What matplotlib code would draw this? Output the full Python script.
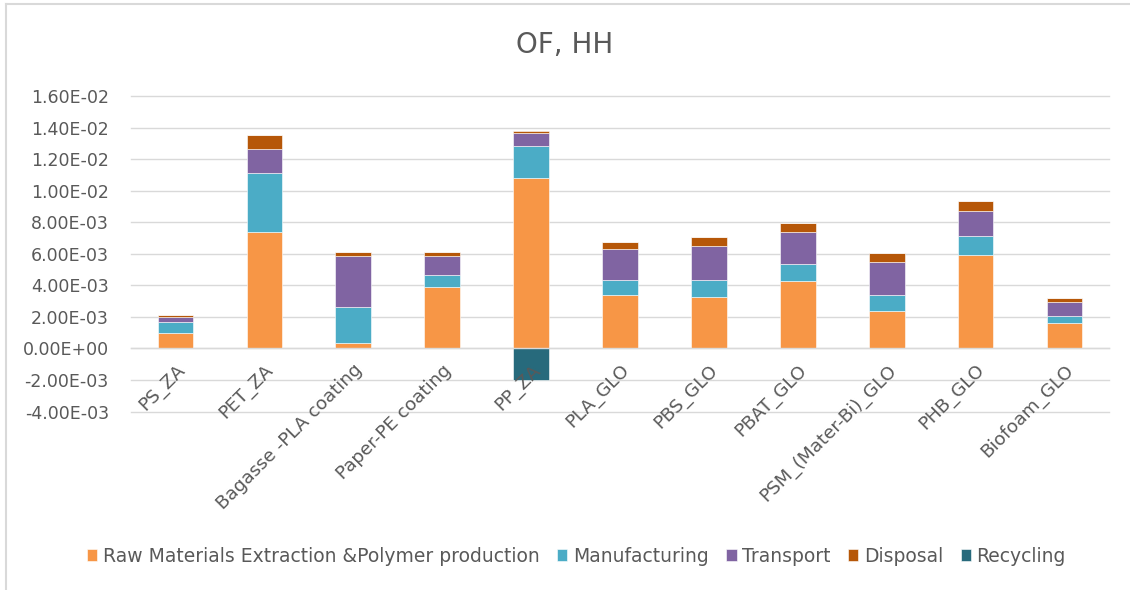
import matplotlib
matplotlib.use("Agg")
import matplotlib.pyplot as plt
from matplotlib.lines import Line2D
import numpy as np

plt.rcParams['font.family'] = ['DejaVu Sans']

categories = ["PS_ZA", "PET_ZA", "Bagasse -PLA coating", "Paper-PE coating", "PP_ZA",
              "PLA_GLO", "PBS_GLO", "PBAT_GLO", "PSM_(Mater-Bi)_GLO", "PHB_GLO", "Biofoam_GLO"]

raw_materials = [0.95e-3, 7.36e-3, 0.32e-3, 3.87e-3, 10.78e-3, 3.38e-3, 3.25e-3, 4.27e-3, 2.35e-3, 5.90e-3, 1.60e-3]
manufacturing = [0.70e-3, 3.74e-3, 2.34e-3, 0.80e-3, 2.05e-3, 0.93e-3, 1.10e-3, 1.06e-3, 1.01e-3, 1.22e-3, 0.45e-3]
transport = [0.33e-3, 1.52e-3, 3.17e-3, 1.20e-3, 0.80e-3, 1.97e-3, 2.12e-3, 2.06e-3, 2.09e-3, 1.61e-3, 0.87e-3]
disposal = [0.13e-3, 0.88e-3, 0.28e-3, 0.24e-3, 0.15e-3, 0.48e-3, 0.59e-3, 0.57e-3, 0.57e-3, 0.59e-3, 0.25e-3]
recycling = [0, 0, 0, 0, -2.0e-3, 0, 0, 0, 0, 0, 0]

series_names = ["Raw Materials Extraction &Polymer production", "Manufacturing",
                "Transport", "Disposal", "Recycling"]
series_colors = ["#F79646", "#4BACC6", "#8064A2", "#B65708", "#276A7C"]
yticks = np.arange(-4e-3, 16.1e-3, 2e-3)

text_color = "#595959"
grid_color = "#D9D9D9"

fig = plt.figure(figsize=(11.3, 5.9), dpi=100)
ax = fig.add_axes([131 / 1130, 1 - 411.6 / 590, 978 / 1130, 315.6 / 590])

x = np.arange(len(categories))
width = 0.4

# gridlines behind the bars
for yv in yticks:
    ax.axhline(yv, color=grid_color, lw=1.0, zorder=0, clip_on=False)

handles = []
pos_bottom = np.zeros(len(categories))
neg_bottom = np.zeros(len(categories))
for name, vals, col in zip(series_names,
                           [raw_materials, manufacturing, transport, disposal, recycling],
                           series_colors):
    vals = np.asarray(vals)
    bottoms = np.where(vals >= 0, pos_bottom, neg_bottom)
    bars = ax.bar(x, vals, width, bottom=bottoms, color=col, edgecolor="white",
                  linewidth=0.4, zorder=1, label=name)
    handles.append(bars)
    pos_bottom = pos_bottom + np.where(vals >= 0, vals, 0)
    neg_bottom = neg_bottom + np.where(vals < 0, vals, 0)

# category axis sits on the zero line
for s in ["top", "right", "left"]:
    ax.spines[s].set_visible(False)
ax.spines["bottom"].set_position(("data", 0))
ax.spines["bottom"].set_color(grid_color)
ax.spines["bottom"].set_linewidth(1.0)

ax.set_xlim(-0.5, len(categories) - 0.5)
ax.set_ylim(-4e-3, 16e-3)
ax.set_yticks(yticks)
ax.set_yticklabels([f"{v:.2E}" for v in yticks])
ax.set_xticks(x)
ax.set_xticklabels(categories)

ax.tick_params(axis="y", length=0, pad=16, labelsize=12.5, labelcolor=text_color)
ax.tick_params(axis="x", length=0, pad=9, labelsize=13.2, labelcolor=text_color)
for lab in ax.get_xticklabels():
    lab.set_rotation(45)
    lab.set_rotation_mode("anchor")
    lab.set_ha("right")
    lab.set_va("top")

fig.text(0.5, 1 - 45 / 590, "OF, HH", ha="center", va="center", fontsize=20, color=text_color)

fig.legend(handles=handles, labels=series_names, loc="center", bbox_to_anchor=(0.51, 1 - 556 / 590),
           ncol=5, frameon=False, fontsize=13.5, labelcolor=text_color, handlelength=0.55,
           handleheight=0.55, handletextpad=0.28, columnspacing=0.95)

# chart border
fig.add_artist(Line2D([6 / 1130, 6 / 1130], [0, 1 - 4 / 590], transform=fig.transFigure,
                      color=grid_color, lw=1.5))
fig.add_artist(Line2D([6 / 1130, 1], [1 - 4 / 590, 1 - 4 / 590], transform=fig.transFigure,
                      color=grid_color, lw=1.5))

fig.savefig("out.png", dpi=100, facecolor="white")
